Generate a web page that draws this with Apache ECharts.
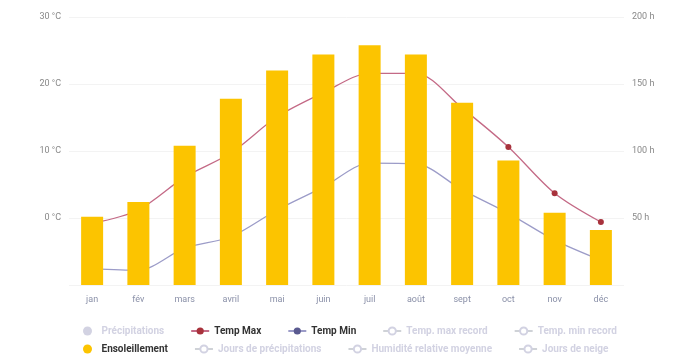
<!DOCTYPE html>
<html>
<head>
<meta charset="utf-8">
<script src="https://cdn.jsdelivr.net/npm/echarts@6/dist/echarts.min.js"></script>
<style>html,body{margin:0;padding:0;background:#fff}#c{width:678px;height:360px}</style>
</head>
<body>
<div id="c"></div>
<script>
const months = ['jan', 'fév', 'mars', 'avril', 'mai', 'juin', 'juil', 'août', 'sept', 'oct', 'nov', 'déc'];
const tempMax = [-0.8, 1.2, 6.1, 9.7, 15.1, 18.7, 21.6, 21.6, 16.4, 10.6, 3.7, -0.6];
const tempMin = [-7.6, -7.8, -4.5, -2.8, 1.2, 4.6, 8.2, 8.1, 4.2, 0.7, -3.3, -6.3];
const sunshine = [51, 62, 104, 139, 160, 172, 179, 172, 136, 93, 54, 41];
const precipitation = [];
const recordMax = [];
const recordMin = [];
const precipDays = [];
const humidity = [];
const snow = [];
const tempTicks = [-10, 0, 10, 20, 30];
const sunTicks = [0, 50, 100, 150, 200];

const legendRow1 = [{name: 'Précipitations', icon: 'circle'}, 'Temp Max', 'Temp Min', 'Temp. max record', 'Temp. min record'];
const legendRow2 = [{name: 'Ensoleillement', icon: 'circle'}, 'Jours de précipitations', 'Humidité relative moyenne', 'Jours de neige'];

const chart = echarts.init(document.getElementById('c'), null, {renderer: 'canvas'});
const legendBase = {
  left: 78, orient: 'horizontal', itemGap: 26, itemWidth: 18, itemHeight: 9,
  textStyle: {fontSize: 10, fontWeight: 'bold', color: '#333', fontFamily: 'Roboto'},
  inactiveColor: '#d2d2e2',
  selected: {
    'Précipitations': false, 'Temp. max record': false, 'Temp. min record': false,
    'Jours de précipitations': false, 'Humidité relative moyenne': false, 'Jours de neige': false
  }
};
chart.setOption({
  animation: false,
  grid: {left: 69, right: 54, top: 17, bottom: 75},
  legend: [
    Object.assign({}, legendBase, {top: 321, data: legendRow1}),
    Object.assign({}, legendBase, {top: 339, data: legendRow2})
  ],
  xAxis: {
    type: 'category', data: months,
    axisLine: {show: false}, axisTick: {show: false},
    axisLabel: {color: '#8a90a8', fontSize: 9, fontFamily: 'Roboto', margin: 10}
  },
  yAxis: [
    {
      type: 'value', min: tempTicks[0], max: tempTicks[tempTicks.length - 1], interval: 10,
      axisLabel: {showMinLabel: false, formatter: '{value} °C', color: '#888', fontSize: 9, fontFamily: 'Roboto'},
      splitLine: {lineStyle: {color: '#f3f3f3'}}, axisLine: {show: false}, axisTick: {show: false}
    },
    {
      type: 'value', min: sunTicks[0], max: sunTicks[sunTicks.length - 1], interval: 50,
      axisLabel: {showMinLabel: false, formatter: '{value} h', color: '#888', fontSize: 9, fontFamily: 'Roboto'},
      splitLine: {show: false}, axisLine: {show: false}, axisTick: {show: false}
    }
  ],
  series: [
    {name: 'Précipitations', type: 'bar', yAxisIndex: 1, data: precipitation, itemStyle: {color: '#a9a9e0'}},
    {name: 'Temp Max', type: 'line', data: tempMax, smooth: 0.3, z: 2, symbol: 'circle', symbolSize: 6,
      lineStyle: {color: '#c46a86', width: 1.3}, itemStyle: {color: '#a8323c'}},
    {name: 'Temp Min', type: 'line', data: tempMin, smooth: 0.3, z: 2, symbol: 'circle', symbolSize: 6,
      lineStyle: {color: '#9c9cc8', width: 1.3}, itemStyle: {color: '#5a5a90'}},
    {name: 'Temp. max record', type: 'line', data: recordMax, itemStyle: {color: '#aaa'}},
    {name: 'Temp. min record', type: 'line', data: recordMin, itemStyle: {color: '#aaa'}},
    {name: 'Ensoleillement', type: 'bar', yAxisIndex: 1, data: sunshine, z: 3, barWidth: 22,
      itemStyle: {color: '#fcc400'}},
    {name: 'Jours de précipitations', type: 'line', data: precipDays, itemStyle: {color: '#aaa'}},
    {name: 'Humidité relative moyenne', type: 'line', data: humidity, itemStyle: {color: '#aaa'}},
    {name: 'Jours de neige', type: 'line', data: snow, itemStyle: {color: '#aaa'}}
  ]
});
</script>
</body>
</html>
